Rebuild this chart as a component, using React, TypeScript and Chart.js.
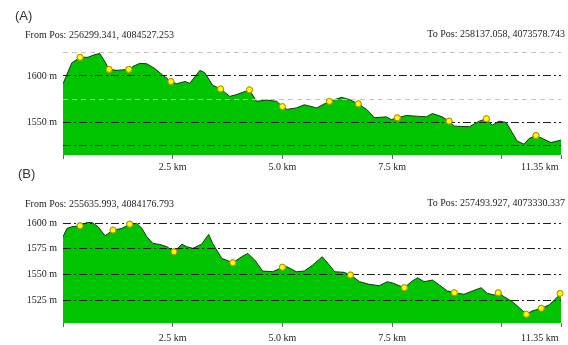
import React, { useEffect, useRef } from 'react';
import { Chart, registerables } from 'chart.js';

Chart.register(...registerables);

// ---- shared x axis ----
const xTickValues = [0, 2.5, 5, 7.5, 10, 11.35];
const xTickLabels = ['', '2.5 km', '5.0 km', '7.5 km', '', '11.35 km'];

// ---- profile A ----
const titleA = '(A)';
const fromA = 'From Pos: 256299.341, 4084527.253';
const toA = 'To Pos: 258137.058, 4073578.743';
const profileAKm = [0, 0.2, 0.39, 0.57, 0.73, 0.84, 0.96, 1.05, 1.23, 1.5, 1.59, 1.75, 1.91, 2.09, 2.27, 2.46, 2.59, 2.78, 2.89, 3.12, 3.23, 3.41, 3.59, 3.8, 3.96, 4.25, 4.41, 4.64, 4.87, 5.0, 5.1, 5.32, 5.5, 5.78, 6.07, 6.35, 6.53, 6.73, 6.92, 7.1, 7.37, 7.48, 7.62, 7.83, 8.05, 8.28, 8.42, 8.64, 8.8, 8.92, 9.26, 9.49, 9.65, 9.78, 9.94, 10.1, 10.24, 10.35, 10.51, 10.62, 10.78, 10.96, 11.12, 11.35];
const profileAElev = [1591.5, 1614, 1620, 1620, 1623, 1624, 1615, 1607, 1606, 1607, 1610, 1613.5, 1613, 1608, 1601, 1594, 1591.5, 1594, 1592, 1606, 1603.5, 1590, 1586, 1578, 1580, 1585, 1572.7, 1574, 1572.7, 1567, 1564, 1565.6, 1569, 1565.6, 1572.7, 1577, 1574.5, 1570, 1564, 1555, 1556, 1553, 1555, 1557.5, 1556.7, 1556, 1559.6, 1556, 1551.4, 1546, 1545.4, 1551.4, 1554, 1547, 1551.4, 1550, 1539, 1530, 1526.6, 1532.6, 1536, 1532, 1528.4, 1531];
const markersAKm = [0.39, 1.05, 1.5, 2.46, 3.59, 4.25, 5.0, 6.07, 6.73, 7.62, 8.8, 9.65, 10.78];
const markersAElev = [1620, 1607, 1607, 1594, 1586, 1585, 1567, 1572.7, 1570, 1555, 1551.4, 1554, 1536];
const yTicksA = [1525, 1550, 1575, 1600, 1625];
const yLabelsA = ['', '1550 m', '', '1600 m', ''];
const yLightA = [1575, 1625];

// ---- profile B ----
const titleB = '(B)';
const fromB = 'From Pos: 255635.993, 4084176.793';
const toB = 'To Pos: 257493.927, 4073330.337';
const profileBKm = [0, 0.09, 0.2, 0.39, 0.55, 0.66, 0.8, 0.96, 1.14, 1.34, 1.52, 1.68, 1.8, 1.91, 2.05, 2.21, 2.37, 2.53, 2.71, 2.82, 2.96, 3.16, 3.32, 3.41, 3.62, 3.87, 4.07, 4.21, 4.37, 4.55, 4.78, 5.0, 5.1, 5.32, 5.5, 5.69, 5.91, 6.07, 6.19, 6.41, 6.55, 6.76, 6.98, 7.21, 7.39, 7.51, 7.78, 7.94, 8.08, 8.23, 8.42, 8.58, 8.76, 8.92, 9.14, 9.33, 9.53, 9.67, 9.83, 9.92, 10.05, 10.24, 10.4, 10.56, 10.69, 10.9, 11.08, 11.24, 11.35];
const profileBElev = [1586.7, 1594.8, 1596.4, 1597.4, 1600.6, 1600.6, 1596.4, 1587.7, 1593.2, 1594.8, 1599, 1599.7, 1594.8, 1586.7, 1580.2, 1579.2, 1577, 1572, 1579.5, 1577, 1575.4, 1579.5, 1589, 1580.2, 1565.6, 1561.4, 1567.2, 1570.5, 1564, 1553.3, 1552.6, 1557, 1557.5, 1552.6, 1553.3, 1559.1, 1567.2, 1559.1, 1552.6, 1552, 1549.4, 1542.9, 1540.3, 1539, 1542.9, 1541.6, 1537, 1542.9, 1546.7, 1542.9, 1544.5, 1539.6, 1533.8, 1532.1, 1530.6, 1533.8, 1537, 1531.5, 1529.9, 1532.1, 1528.3, 1523.4, 1517.5, 1511.1, 1514.3, 1516.9, 1520.2, 1526.7, 1531.5];
const markersBKm = [0.39, 1.14, 1.52, 2.53, 3.87, 5.0, 6.55, 7.78, 8.92, 9.92, 10.56, 10.9, 11.33];
const markersBElev = [1597.4, 1593.2, 1599, 1572, 1561.4, 1557, 1549.4, 1537, 1532.1, 1532.1, 1511.1, 1516.9, 1531.5];
const yTicksB = [1525, 1550, 1575, 1600];
const yLabelsB = ['1525 m', '1550 m', '1575 m', '1600 m'];
const yLightB: number[] = [];

const SERIF = '"Liberation Serif", "Times New Roman", serif';
const SANS = '"Liberation Sans", Arial, sans-serif';
const TEXT = '#222';

const markersOnTop = {
  id: 'markersOnTop',
  afterDraw(chart: any) {
    const meta = chart.getDatasetMeta(1);
    const ctx = chart.ctx;
    ctx.save();
    meta.data.forEach((el: any) => el.draw(ctx, chart.chartArea));
    ctx.restore();
  },
};

function buildConfig(p: any): any {
  return {
    type: 'line',
    data: {
      datasets: [
        {
          data: p.km.map((x: number, i: number) => ({ x, y: p.elev[i] })),
          borderColor: '#0d3a0d',
          borderWidth: 1,
          backgroundColor: '#00c400',
          fill: 'start',
          pointRadius: 0,
          tension: 0,
          order: 1,
        },
        {
          data: p.mKm.map((x: number, i: number) => ({ x, y: p.mElev[i] })),
          showLine: false,
          pointRadius: 3,
          pointBackgroundColor: '#ffff00',
          pointBorderColor: '#b08a00',
          pointBorderWidth: 1,
          order: 0,
        },
      ],
    },
    options: {
      animation: false,
      responsive: false,
      events: [],
      layout: { padding: { top: p.padTop, right: 7, left: 0, bottom: 0 } },
      plugins: { legend: { display: false }, tooltip: { enabled: false }, title: { display: false } },
      scales: {
        x: {
          type: 'linear',
          min: 0,
          max: 11.35,
          afterBuildTicks: (s: any) => {
            s.ticks = xTickValues.map((v) => ({ value: v }));
          },
          afterFit: (s: any) => {
            s.height = p.xHeight;
            s.paddingLeft = 0;
            s.paddingRight = 0;
          },
          ticks: {
            autoSkip: false,
            maxRotation: 0,
            minRotation: 0,
            padding: p.xPad,
            color: TEXT,
            font: { family: SERIF, size: 10 },
            callback: (_v: any, i: number) =>
              i === xTickLabels.length - 1 ? xTickLabels[i] + ' '.repeat(17) : xTickLabels[i],
          },
          grid: { drawOnChartArea: false, drawTicks: true, tickLength: 4, color: '#666' },
          border: { display: false },
        },
        y: {
          type: 'linear',
          min: p.yMin,
          max: p.yMax,
          afterBuildTicks: (s: any) => {
            s.ticks = p.yTicks.map((v: number) => ({ value: v }));
          },
          afterFit: (s: any) => {
            s.width = 63;
            s.paddingTop = 0;
            s.paddingBottom = 0;
          },
          ticks: {
            autoSkip: false,
            padding: 6,
            color: TEXT,
            font: { family: SERIF, size: 10 },
            callback: (_v: any, i: number) => p.yLabels[i],
          },
          grid: {
            z: 1,
            drawTicks: false,
            lineWidth: 1,
            color: (c: any) => (c.tick && p.yLight.includes(c.tick.value) ? '#c4c4c4' : '#1e1e1e'),
          },
          border: {
            display: false,
            dash: (c: any) => (c.tick && p.yLight.includes(c.tick.value) ? [5, 4] : [8, 3, 2, 3]),
          },
        },
      },
    },
    plugins: [markersOnTop],
  };
}

function Profile({ p, top, height }: { p: any; top: number; height: number }) {
  const ref = useRef<HTMLCanvasElement>(null);
  useEffect(() => {
    const chart = new Chart(ref.current as HTMLCanvasElement, buildConfig(p));
    return () => chart.destroy();
  }, []);
  return (
    <canvas
      ref={ref}
      width={568}
      height={height}
      style={{ position: 'absolute', left: 0, top, width: 568, height, display: 'block' }}
    />
  );
}

const label = (text: string, style: any) => (
  <div
    style={{
      position: 'absolute',
      whiteSpace: 'nowrap',
      color: TEXT,
      fontFamily: SERIF,
      fontSize: 10,
      lineHeight: '12px',
      ...style,
    }}
  >
    {text}
  </div>
);

export default function App() {
  const pA = {
    km: profileAKm, elev: profileAElev, mKm: markersAKm, mElev: markersAElev,
    yTicks: yTicksA, yLabels: yLabelsA, yLight: yLightA,
    yMin: 1515, yMax: 1630, padTop: 48, xHeight: 23, xPad: 2,
  };
  const pB = {
    km: profileBKm, elev: profileBElev, mKm: markersBKm, mElev: markersBElev,
    yTicks: yTicksB, yLabels: yLabelsB, yLight: yLightB,
    yMin: 1502.6, yMax: 1605, padTop: 40, xHeight: 22, xPad: 5,
  };
  return (
    <div style={{ position: 'fixed', left: 0, top: 0, width: 568, height: 345, background: '#fff', overflow: 'hidden' }}>
      <Profile p={pA} top={0} height={178} />
      <Profile p={pB} top={178} height={167} />
      {label(titleA, { left: 15, top: 8, fontFamily: SANS, fontSize: 13, lineHeight: '15px', color: '#333' })}
      {label(fromA, { left: 25, top: 29 })}
      {label(toA, { right: 3, top: 28 })}
      {label(titleB, { left: 18, top: 166, fontFamily: SANS, fontSize: 13, lineHeight: '15px', color: '#333' })}
      {label(fromB, { left: 25, top: 198 })}
      {label(toB, { right: 3, top: 197 })}
    </div>
  );
}
